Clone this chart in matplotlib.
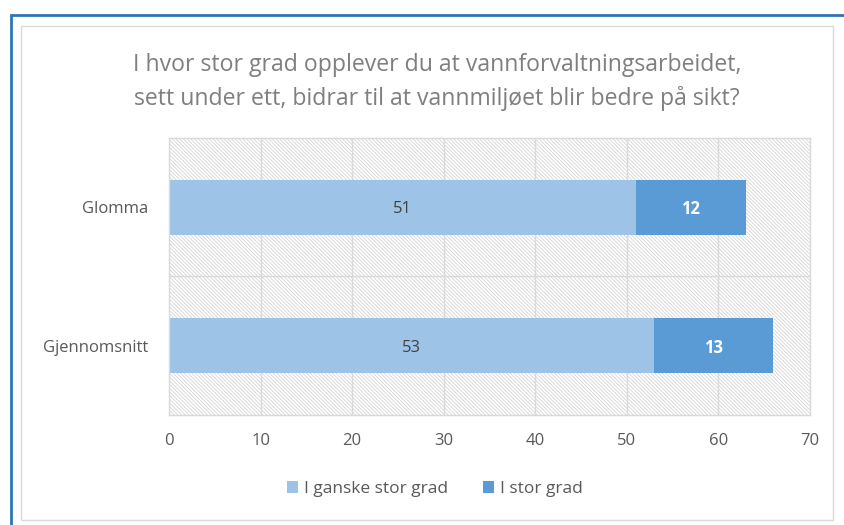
import matplotlib
matplotlib.use("Agg")
import matplotlib.pyplot as plt
from matplotlib.patches import Rectangle
import matplotlib as mpl

categories = ["Glomma", "Gjennomsnitt"]
ganske = [51, 53]
stor = [12, 13]
series_names = ["I ganske stor grad", "I stor grad"]
xticks = [0, 10, 20, 30, 40, 50, 60, 70]
title = "I hvor stor grad opplever du at vannforvaltningsarbeidet,\nsett under ett, bidrar til at vannmiljøet blir bedre på sikt?"

plt.rcParams['font.family'] = ['Open Sans', 'DejaVu Sans']
mpl.rcParams['hatch.linewidth'] = 0.6

W, H = 844, 525
fig = plt.figure(figsize=(W/100, H/100), dpi=100)

# outer frames
fig.add_artist(Rectangle((11/W, -0.1), 1.2, (H-15)/H + 0.1, transform=fig.transFigure,
                         fill=False, edgecolor='#2e75b6', linewidth=2))
fig.add_artist(Rectangle((21/W, 5/H), (833-21)/W, (H-26-5)/H, transform=fig.transFigure,
                         fill=False, edgecolor='#d9d9d9', linewidth=1))

ax = fig.add_axes([169/W, 1-415/H, (810-169)/W, (415-138)/H])
ax.set_xlim(0, 70)
ax.set_ylim(1.5, -0.5)
ax.add_patch(Rectangle((0, -0.5), 70, 2, facecolor='white', edgecolor='#d4d4d4', linewidth=0,
                       hatch='\\' * 9, zorder=0))

c1, c2 = '#9dc3e6', '#5b9bd5'
y = list(range(len(categories)))
ax.barh(y, ganske, height=0.4, color=c1, label=series_names[0], zorder=2)
ax.barh(y, stor, left=ganske, height=0.4, color=c2, label=series_names[1], zorder=2)

for i in y:
    ax.text(ganske[i]/2, i, str(ganske[i]), ha='center', va='center_baseline', fontsize=12,
            color='#404040', zorder=3)
    ax.text(ganske[i] + stor[i]/2, i, str(stor[i]), ha='center', va='center_baseline', fontsize=12,
            color='white', fontweight='bold', zorder=3)

for xv in xticks[1:-1]:
    ax.axvline(xv, color='#d9d9d9', linewidth=1, zorder=1)
ax.axhline(0.5, color='#d9d9d9', linewidth=1, zorder=1)

for s in ax.spines.values():
    s.set_color('#d9d9d9')
    s.set_linewidth(1)

ax.set_xticks(xticks)
ax.set_xticklabels([str(v) for v in xticks])
ax.set_yticks(y)
ax.set_yticklabels(categories)
ax.tick_params(axis='both', length=0, labelsize=12, labelcolor='#595959')
ax.tick_params(axis='x', pad=13)
ax.tick_params(axis='y', pad=15)

fig.text(437/W, 1-82/H, title, ha='center', va='center', fontsize=16.6, color='#7f7f7f', linespacing=1.5)

leg = fig.legend(loc='center', bbox_to_anchor=(435/W, 1-489/H), ncol=2, frameon=False,
                 fontsize=12.5, handlelength=0.65, handleheight=0.65, handletextpad=0.35, columnspacing=2.0)
for t in leg.get_texts():
    t.set_color('#595959')

fig.savefig('out.png', dpi=100)
